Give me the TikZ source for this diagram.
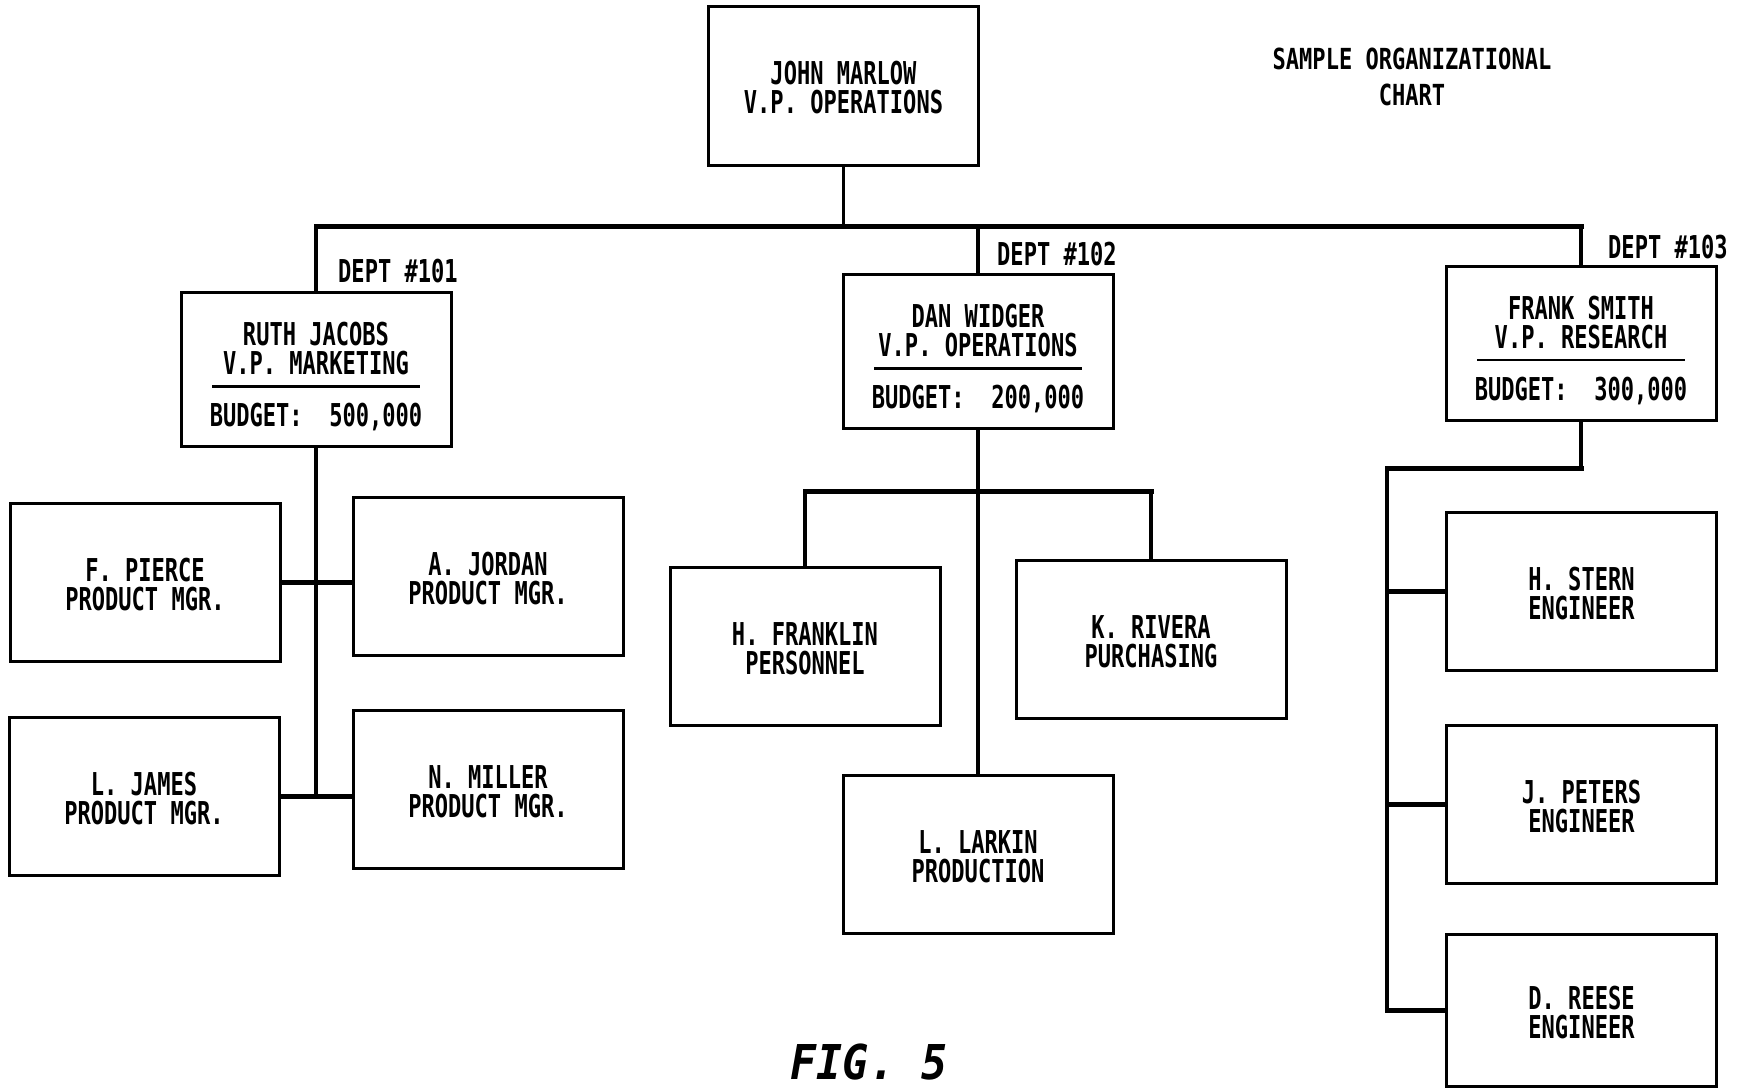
\documentclass[tikz,border=0pt]{standalone}
\usepackage{fontspec}
\usetikzlibrary{calc}
\newfontfamily\plotfont{DejaVu Sans Mono}[FakeStretch=0.70]
\newfontfamily\titlefont{DejaVu Sans Mono}[FakeStretch=0.76]
\newfontfamily\figfont{DejaVu Sans Mono}[FakeStretch=0.90]

\tikzset{
  box/.style={draw, line width=3pt, minimum width=270pt, minimum height=158pt, inner sep=0pt},
  txt/.style={font=\plotfont\bfseries\fontsize{31.5}{28}\selectfont, anchor=base, inner sep=0pt},
  ttl/.style={font=\titlefont\bfseries\fontsize{29}{36}\selectfont, anchor=base, inner sep=0pt},
  figlabel/.style={font=\figfont\bfseries\itshape\fontsize{48}{50}\selectfont, anchor=base, inner sep=0pt},
  vline/.style={line width=3.5pt, line cap=rect},
  hline/.style={line width=5pt, line cap=rect},
  sepline/.style={line width=2.5pt},
}

\newcommand{\personbox}[5]{%
  \node[box] (#1) at (#2,#3) {};
  \node[txt] (#1-a) at ($(#1.center)+(0,-1)$) {#4};
  \node[txt] (#1-b) at ($(#1.center)+(0,28)$) {#5};
}
\newcommand{\budgetbox}[6]{%
  \node[box, minimum height=154pt] (#1) at (#2,#3) {};
  \node[txt] (#1-a) at ($(#1.center)+(0,-24)$) {#4};
  \node[txt] (#1-b) at ($(#1.center)+(0,5)$) {#5};
  \draw[sepline] ($(#1.center)+(-104,17)$) -- ($(#1.center)+(104,17)$);
  \node[txt] (#1-c) at ($(#1.center)+(0,57)$) {BUDGET:~~#6};
}

\begin{document}
\begin{tikzpicture}[x=1pt,y=-1pt]
\useasboundingbox (0,0) rectangle (1740,1089);
\fill[white] (0,0) rectangle (1740,1089);

% title
\node[ttl] (title1) at (1412,70) {SAMPLE ORGANIZATIONAL};
\node[ttl] (title2) at (1412,106) {CHART};

% top
\personbox{john}{843.5}{86}{JOHN MARLOW}{V.P. OPERATIONS}

% level 2
\budgetbox{ruth}{316}{369.5}{RUTH JACOBS}{V.P. MARKETING}{500,000}
\budgetbox{dan}{978}{351.5}{DAN WIDGER}{V.P. OPERATIONS}{200,000}
\budgetbox{frank}{1581}{343}{FRANK SMITH}{V.P. RESEARCH}{300,000}

\node[txt, anchor=base west] (d101) at (338,282) {DEPT \#101};
\node[txt, anchor=base west] (d102) at (997,265) {DEPT \#102};
\node[txt, anchor=base west] (d103) at (1608,258) {DEPT \#103};

% level 3 left
\personbox{pierce}{145}{582}{F. PIERCE}{PRODUCT MGR.}
\personbox{jordan}{488}{576}{A. JORDAN}{PRODUCT MGR.}
\personbox{james}{144}{796}{L. JAMES}{PRODUCT MGR.}
\personbox{miller}{488}{789}{N. MILLER}{PRODUCT MGR.}

% level 3 middle
\personbox{franklin}{805}{646.5}{H. FRANKLIN}{PERSONNEL}
\personbox{rivera}{1151}{639.5}{K. RIVERA}{PURCHASING}
\personbox{larkin}{978}{854.5}{L. LARKIN}{PRODUCTION}

% level 3 right
\personbox{stern}{1581.5}{591.5}{H. STERN}{ENGINEER}
\personbox{peters}{1581.5}{804.5}{J. PETERS}{ENGINEER}
\node[box, minimum height=152pt] (reese) at (1581.5,1010) {};
\node[txt] (reese-a) at ($(reese.center)+(0,-1)$) {D. REESE};
\node[txt] (reese-b) at ($(reese.center)+(0,28)$) {ENGINEER};

% connectors top
\coordinate (bus) at (843.5,226);
\draw[vline] (john.south) -- (john.south |- bus);
\draw[hline] (ruth.north |- bus) -- (frank.north |- bus);
\draw[vline] (ruth.north |- bus) -- (ruth.north);
\draw[vline] (dan.north |- bus) -- (dan.north);
\draw[vline] (frank.north |- bus) -- (frank.north);

% connectors left
\draw[vline] (ruth.south) -- (ruth.south |- james.east);
\draw[hline] (pierce.east) -- (pierce.east -| jordan.west);
\draw[hline] (james.east) -- (james.east -| miller.west);

% connectors middle
\coordinate (mbus) at (978,491);
\draw[vline] (dan.south) -- (larkin.north);
\draw[hline] (franklin.north |- mbus) -- (rivera.north |- mbus);
\draw[vline] (franklin.north |- mbus) -- (franklin.north);
\draw[vline] (rivera.north |- mbus) -- (rivera.north);

% connectors right
\coordinate (rbus) at (1387,468);
\draw[vline] (frank.south) -- (frank.south |- rbus);
\draw[hline] (frank.south |- rbus) -- (rbus);
\draw[vline] (rbus) -- (rbus |- reese.west);
\draw[hline] (rbus |- stern.west) -- (stern.west);
\draw[hline] (rbus |- peters.west) -- (peters.west);
\draw[hline] (rbus |- reese.west) -- (reese.west);

% figure label
\node[figlabel] (fig) at (869,1079) {FIG. 5};
\end{tikzpicture}
\end{document}
